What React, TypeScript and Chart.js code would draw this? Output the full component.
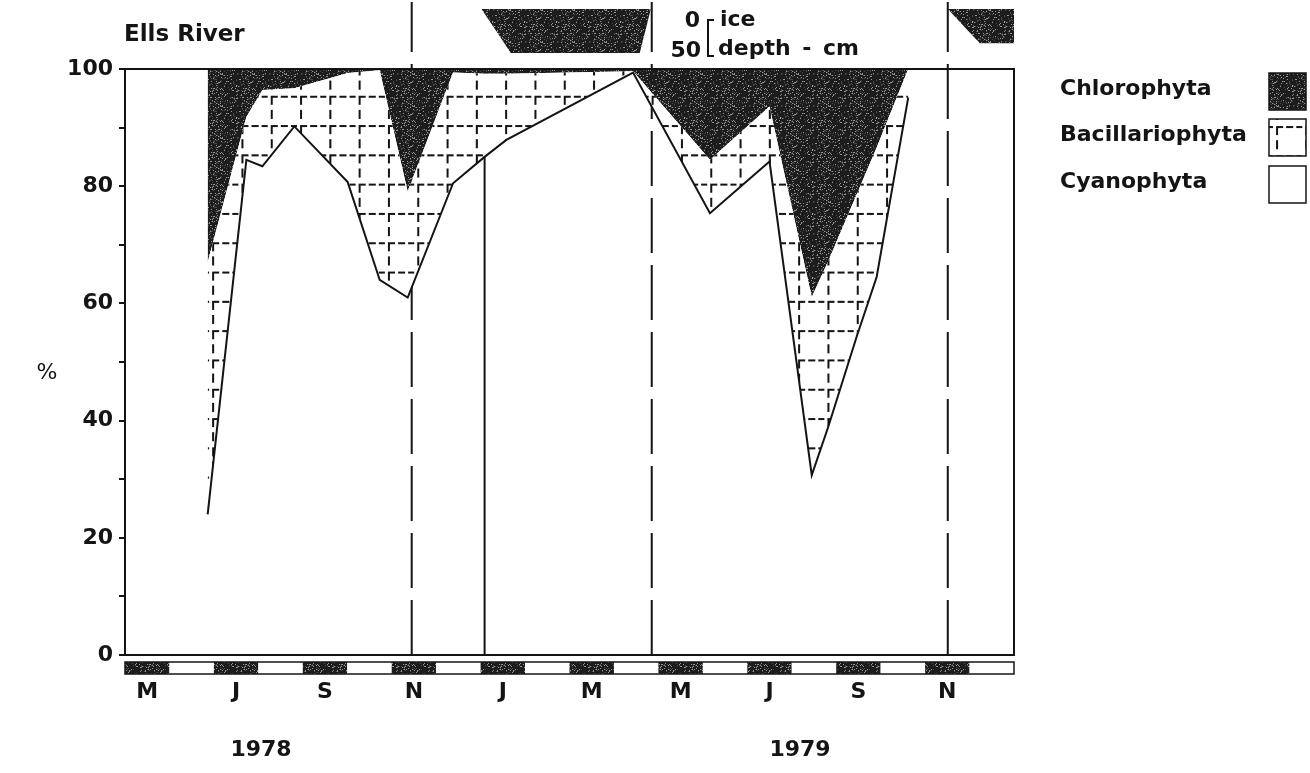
import React, { useEffect, useRef } from 'react';
import { Chart, registerables } from 'chart.js';

Chart.register(...registerables);

// x = months since 1 May 1978 (0..20 = May 1978 .. Dec 1979)
const sampleMonths = [1.86, 2.73, 3.09, 3.81, 5.01, 5.73, 6.36, 7.38, 8.09, 8.58, 11.43, 13.16, 14.5, 15.45, 15.82, 16.46, 16.91, 17.62];
const cyanophyta = [24, 84.5, 83.4, 90.2, 80.7, 64.0, 61.0, 80.5, 85.0, 87.9, 99.4, 75.4, 84.2, 30.7, 38.9, 54.3, 64.5, 95.1];
const bacillariophyta = [43, 7.3, 13.0, 6.5, 18.6, 35.8, 18.1, 18.9, 14.2, 11.3, 0.2, 9.1, 9.4, 30.4, 28.3, 24.3, 22.1, 4.9];
const chlorophyta = [33, 8.2, 3.6, 3.3, 0.7, 0.2, 20.9, 0.6, 0.8, 0.8, 0.4, 15.5, 6.4, 38.9, 32.8, 21.4, 13.4, 0];
const gapSampleIndex = 8;

// ice depth (cm)
const iceMonthsA = [8.02, 8.68, 11.58, 11.83];
const iceDepthA = [0, 50, 50, 0];
const iceMonthsB = [18.51, 19.23, 20];
const iceDepthB = [0, 39, 39];
const iceEventMonths = [6.45, 11.85, 18.51];

const monthLabels = ['M', 'J', 'S', 'N', 'J', 'M', 'M', 'J', 'S', 'N'];
const yTickValues = [0, 10, 20, 30, 40, 50, 60, 70, 80, 90, 100];
const yearLabels = ['1978', '1979'];
const legendLabels = ['Chlorophyta', 'Bacillariophyta', 'Cyanophyta'];

const Y_MAX = 111.43;
const ICE_MIN = -7.95;
const ICE_MAX = 734.1;
const FONT = "'DejaVu Sans', 'Liberation Sans', sans-serif";
const INK = '#141414';

function makeStipple(ctx: CanvasRenderingContext2D) {
  const n = 32;
  const c = document.createElement('canvas');
  c.width = n; c.height = n;
  const g = c.getContext('2d')!;
  const img = g.createImageData(n, n);
  for (let y = 0; y < n; y++) {
    for (let x = 0; x < n; x++) {
      const h = (((x * 2654435761) ^ (y * 40503) ^ (x * y * 97)) >>> 0);
      const v = h % 11 === 0 ? 150 : (h % 7 === 0 ? 75 : 28);
      const i = (y * n + x) * 4;
      img.data[i] = v; img.data[i + 1] = v; img.data[i + 2] = v; img.data[i + 3] = 255;
    }
  }
  g.putImageData(img, 0, 0);
  return ctx.createPattern(c, 'repeat')!;
}

function makeHatch(ctx: CanvasRenderingContext2D, ox: number, oy: number) {
  const s = 29;
  const c = document.createElement('canvas');
  c.width = s; c.height = s;
  const g = c.getContext('2d')!;
  g.fillStyle = '#fff';
  g.fillRect(0, 0, s, s);
  g.fillStyle = INK;
  [[0, 7], [10, 17], [20, 26]].forEach(([a, b]) => g.fillRect(a, 0, b - a, 2));
  [[0, 9], [14, 23]].forEach(([a, b]) => g.fillRect(0, a, 2, b - a));
  const p = ctx.createPattern(c, 'repeat')!;
  const k = 29.3 / 29;
  p.setTransform(new DOMMatrix([k, 0, 0, k, ox, oy]));
  return p;
}

const pts = (xs: number[], ys: number[]) => xs.map((x, i) => ({ x, y: ys[i] }));

function Txt(props: { x: number; base: number; size?: number; bold?: boolean; align?: 'left' | 'center' | 'right'; children: React.ReactNode; style?: React.CSSProperties }) {
  const size = props.size ?? 22;
  const tr = props.align === 'center' ? 'translateX(-50%)' : props.align === 'right' ? 'translateX(-100%)' : 'none';
  return (
    <div style={{
      position: 'absolute', left: props.x, top: props.base - 0.846 * size, fontSize: size, lineHeight: 1,
      fontFamily: FONT, fontWeight: props.bold === false ? 'normal' : 'bold', color: INK, whiteSpace: 'nowrap',
      transform: tr, ...props.style,
    }}>{props.children}</div>
  );
}

export default function App() {
  const ref = useRef<HTMLCanvasElement>(null);

  useEffect(() => {
    const canvas = ref.current!;
    const ctx = canvas.getContext('2d')!;
    const stipple = makeStipple(ctx);
    const hatch = makeHatch(ctx, 7, 7.8);
    const legendHatch = makeHatch(ctx, 1276, 126);

    const bacilTop = sampleMonths.map((m, i) => ({ x: m, y: cyanophyta[i] + bacillariophyta[i] }));
    const chloroTop = sampleMonths.map((m, i) => ({ x: m, y: cyanophyta[i] + bacillariophyta[i] + chlorophyta[i] }));

    const framePlugin = {
      id: 'frame',
      afterDatasetsDraw(chart: any) {
        const { ctx: c, chartArea: a, scales } = chart;
        const x = scales.x, y = scales.y;
        const y0 = y.getPixelForValue(0), y100 = y.getPixelForValue(100);
        c.save();
        c.strokeStyle = INK;
        c.lineWidth = 2;
        c.beginPath();
        c.moveTo(a.left, y0);
        c.lineTo(a.left, y100);
        c.lineTo(a.right, y100);
        c.lineTo(a.right, y0);
        c.closePath();
        c.stroke();
        // month bar
        const barTop = 662, barH = 12;
        for (let i = 0; i < 20; i++) {
          const xa = x.getPixelForValue(i), xb = x.getPixelForValue(i + 1);
          c.fillStyle = i % 2 === 0 ? stipple : '#fff';
          c.fillRect(xa, barTop, xb - xa, barH);
        }
        c.lineWidth = 1.5;
        c.strokeRect(x.getPixelForValue(0), barTop, x.getPixelForValue(20) - x.getPixelForValue(0), barH);
        // legend boxes
        const bx = 1269, bs = 37, bys = [73, 119, 166];
        const fills = [stipple, legendHatch, '#fff'];
        bys.forEach((by, i) => {
          c.fillStyle = fills[i];
          c.fillRect(bx, by, bs, bs);
          c.strokeRect(bx, by, bs, bs);
        });
        // ice scale bracket
        c.lineWidth = 2;
        c.beginPath();
        c.moveTo(714, 20);
        c.lineTo(708, 20);
        c.lineTo(708, 56);
        c.lineTo(714, 56);
        c.stroke();
        c.restore();
      },
    };

    const lineBase = { pointRadius: 0, pointHoverRadius: 0, tension: 0 };
    const hidden = { borderColor: 'rgba(0,0,0,0)', borderWidth: 0 };

    const datasets: any[] = [
      { label: 'Cyanophyta', data: pts(sampleMonths, cyanophyta), borderColor: INK, borderWidth: 2, fill: false, order: 1, ...lineBase },
      { label: 'Bacillariophyta', data: bacilTop, ...hidden, backgroundColor: hatch, fill: '-1', order: 4, ...lineBase },
      { label: 'Chlorophyta', data: chloroTop, ...hidden, backgroundColor: stipple, fill: '-1', order: 5, ...lineBase },
      { label: 'ice1', data: pts(iceMonthsA, iceDepthA), yAxisID: 'yIce', ...hidden, backgroundColor: stipple, fill: { value: 0 }, order: 3, ...lineBase },
      { label: 'ice2', data: pts(iceMonthsB, iceDepthB), yAxisID: 'yIce', ...hidden, backgroundColor: stipple, fill: { value: 0 }, order: 3, ...lineBase },
      ...iceEventMonths.map((m) => ({
        label: 'event', data: [{ x: m, y: 0 }, { x: m, y: Y_MAX }], borderColor: INK, borderWidth: 2,
        borderDash: [55, 12], fill: false, order: 10, ...lineBase,
      })),
      {
        label: 'gap', data: [{ x: sampleMonths[gapSampleIndex], y: 0 }, { x: sampleMonths[gapSampleIndex], y: cyanophyta[gapSampleIndex] }],
        borderColor: INK, borderWidth: 2, fill: false, order: 2, ...lineBase,
      },
    ];

    const tickFont = { family: FONT, size: 22, weight: 'bold' as const };

    const chart = new Chart(ctx, {
      type: 'line',
      data: { datasets },
      plugins: [framePlugin],
      options: {
        animation: false,
        responsive: false,
        devicePixelRatio: 1,
        events: [],
        layout: { padding: { left: 0, right: 296, top: 2, bottom: 0 } },
        plugins: { legend: { display: false }, tooltip: { enabled: false } },
        scales: {
          x: {
            type: 'linear', min: 0, max: 20,
            grid: { display: false }, border: { display: false },
            afterBuildTicks: (s: any) => { s.ticks = monthLabels.map((_, i) => ({ value: 2 * i + 0.5 })); },
            afterFit: (s: any) => { s.height = 118; s.paddingLeft = 0; s.paddingRight = 0; },
            ticks: {
              autoSkip: false, maxRotation: 0, minRotation: 0, padding: 16, color: INK, font: tickFont,
              callback: (_v: any, i: number) => monthLabels[i],
            },
          },
          y: {
            type: 'linear', min: 0, max: Y_MAX,
            afterBuildTicks: (s: any) => { s.ticks = yTickValues.map((v) => ({ value: v })); },
            afterFit: (s: any) => { s.width = 125; s.paddingTop = 0; s.paddingBottom = 0; },
            grid: { drawOnChartArea: false, drawTicks: true, tickLength: 6, color: INK, lineWidth: 2 },
            border: { display: false },
            ticks: {
              autoSkip: false, padding: 6, color: INK, font: tickFont,
              callback: (v: any) => (Number(v) % 20 === 0 ? String(v) : ''),
            },
          },
          yIce: { type: 'linear', display: false, reverse: true, min: ICE_MIN, max: ICE_MAX },
        },
      } as any,
    });
    return () => chart.destroy();
  }, []);

  return (
    <div style={{ position: 'fixed', left: 0, top: 0, width: 1310, height: 773, background: '#fff', overflow: 'hidden' }}>
      <canvas ref={ref} width={1310} height={773} style={{ position: 'absolute', left: 0, top: 0, width: 1310, height: 773 }} />
      <Txt x={124} base={41} size={23}>Ells River</Txt>
      <Txt x={700} base={28} align="right">0</Txt>
      <Txt x={720} base={27}>ice</Txt>
      <Txt x={701} base={58} align="right">50</Txt>
      <Txt x={718} base={56} style={{ wordSpacing: 4 }}>depth - cm</Txt>
      <Txt x={1060} base={96}>{legendLabels[0]}</Txt>
      <Txt x={1060} base={142}>{legendLabels[1]}</Txt>
      <Txt x={1060} base={189}>{legendLabels[2]}</Txt>
      <Txt x={47} base={380} align="center" bold={false}>%</Txt>
      <Txt x={261} base={757} align="center">{yearLabels[0]}</Txt>
      <Txt x={800} base={757} align="center">{yearLabels[1]}</Txt>
    </div>
  );
}
